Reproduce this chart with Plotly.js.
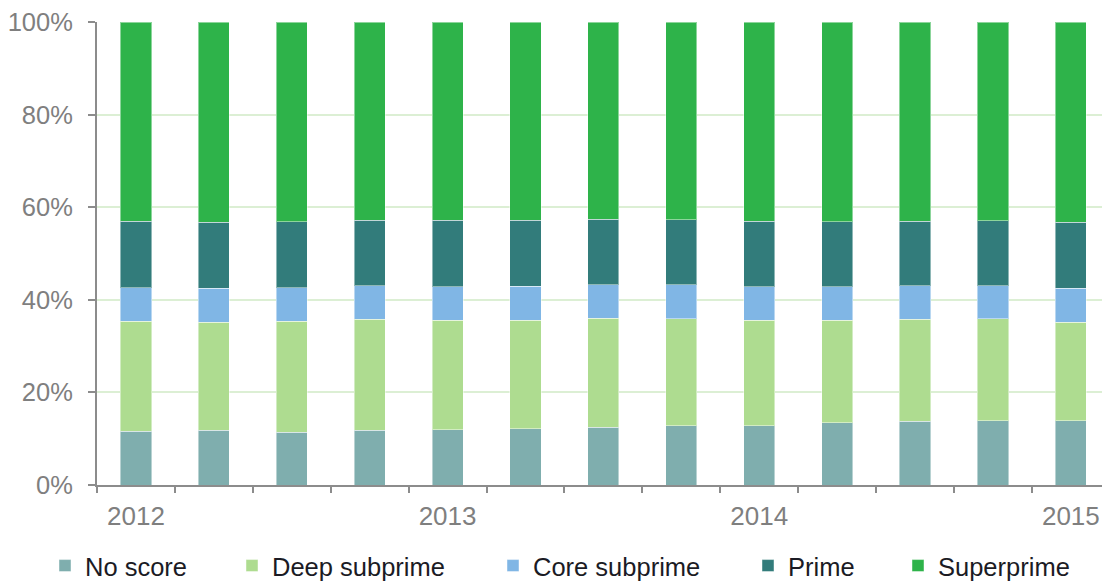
<!DOCTYPE html>
<html>
<head>
<meta charset="utf-8">
<script src="https://cdn.plot.ly/plotly-3.0.1.min.js"></script>
<style>html,body{margin:0;padding:0;background:#fff;}#chart{width:1102px;height:583px;}</style>
</head>
<body>
<div id="chart"></div>
<script>
// Quarterly categories
const categories = ['2012 Q1','2012 Q2','2012 Q3','2012 Q4','2013 Q1','2013 Q2','2013 Q3','2013 Q4','2014 Q1','2014 Q2','2014 Q3','2014 Q4','2015 Q1'];
// Shares (%) by credit score tier
const noScore      = [11.6, 11.8, 11.4, 11.8, 11.9, 12.2, 12.5, 12.8, 12.8, 13.5, 13.8, 13.9, 13.9];
const deepSubprime = [23.8, 23.3, 24.0, 24.0, 23.7, 23.4, 23.5, 23.1, 22.8, 22.1, 22.0, 22.0, 21.3];
const coreSubprime = [7.2, 7.4, 7.2, 7.2, 7.2, 7.3, 7.2, 7.3, 7.2, 7.2, 7.2, 7.1, 7.3];
const prime        = [14.4, 14.3, 14.3, 14.2, 14.4, 14.3, 14.2, 14.1, 14.2, 14.1, 14.0, 14.1, 14.2];
const superprime   = [43.0, 43.2, 43.1, 42.8, 42.8, 42.8, 42.6, 42.7, 43.0, 43.1, 43.0, 42.9, 43.3];
const seriesNames  = ['No score', 'Deep subprime', 'Core subprime', 'Prime', 'Superprime'];
const tickCats     = ['2012 Q1', '2013 Q1', '2014 Q1', '2015 Q1'];
const tickLabels   = ['2012', '2013', '2014', '2015'];

const colors = ['#7faeae', '#aedc90', '#80b6e5', '#327c7b', '#2eb34a'];
const values = [noScore, deepSubprime, coreSubprime, prime, superprime];
const legendIds = ['legend', 'legend2', 'legend3', 'legend4', 'legend5'];

const traces = values.map((v, i) => ({
  type: 'bar',
  x: categories,
  y: v,
  name: seriesNames[i],
  marker: {color: colors[i], line: {color: 'rgba(255,255,255,0.45)', width: 1}},
  legend: legendIds[i],
  hoverinfo: 'name+y'
}));
// invisible helper trace for the boundary tick axis
traces.push({type: 'scatter', x: [], y: [], xaxis: 'x2', yaxis: 'y', showlegend: false, hoverinfo: 'skip'});

const W = 1102, H = 583;
const plotL = 97;
const markerPx = [63, 250, 511, 766, 916];
const legendFont = {family: 'Liberation Sans, Arial, sans-serif', size: 25.5, color: '#1b1b24'};

const layout = {
  width: W, height: H,
  margin: {l: plotL, r: 0, t: 22, b: 98},
  paper_bgcolor: '#fff', plot_bgcolor: '#fff',
  barmode: 'stack',
  bargap: 0.6,
  showlegend: true,
  font: {family: 'Liberation Sans, Arial, sans-serif', color: '#7f7f7f'},
  xaxis: {
    type: 'category',
    categoryorder: 'array', categoryarray: categories,
    range: [-0.5, 12.4],
    tickmode: 'array', tickvals: tickCats, ticktext: tickLabels,
    ticks: '', showgrid: false, zeroline: false,
    showline: true, linecolor: '#8c8c8c', linewidth: 2,
    tickfont: {size: 26, color: '#7f7f7f'},
    ticklabelstandoff: 7,
    automargin: false
  },
  xaxis2: {
    overlaying: 'x', anchor: 'y', side: 'bottom',
    range: [-0.5, 12.4],
    tickmode: 'linear', tick0: -0.5, dtick: 1,
    ticks: 'outside', ticklen: 7, tickwidth: 2, tickcolor: '#8c8c8c',
    showticklabels: false, showgrid: false, zeroline: false, showline: false,
    automargin: false
  },
  yaxis: {
    range: [0, 100],
    tickmode: 'linear', tick0: 0, dtick: 20,
    ticksuffix: '%',
    ticks: 'outside', ticklen: 7, tickwidth: 2, tickcolor: '#8c8c8c',
    showline: true, linecolor: '#8c8c8c', linewidth: 2,
    showgrid: true, gridcolor: '#dcefd4', gridwidth: 2,
    zeroline: false,
    tickfont: {size: 25.5, color: '#7f7f7f'},
    ticklabelstandoff: 10,
    automargin: false
  }
};
legendIds.forEach((id, i) => {
  layout[id] = {
    xref: 'container', yref: 'container',
    x: (markerPx[i] - 18) / W,
    xanchor: 'left',
    y: (H - 566) / H, yanchor: 'middle',
    orientation: 'h',
    font: legendFont,
    bgcolor: 'rgba(0,0,0,0)',
    borderwidth: 0
  };
});

Plotly.newPlot('chart', traces, layout, {displayModeBar: false, staticPlot: true});
</script>
</body>
</html>
